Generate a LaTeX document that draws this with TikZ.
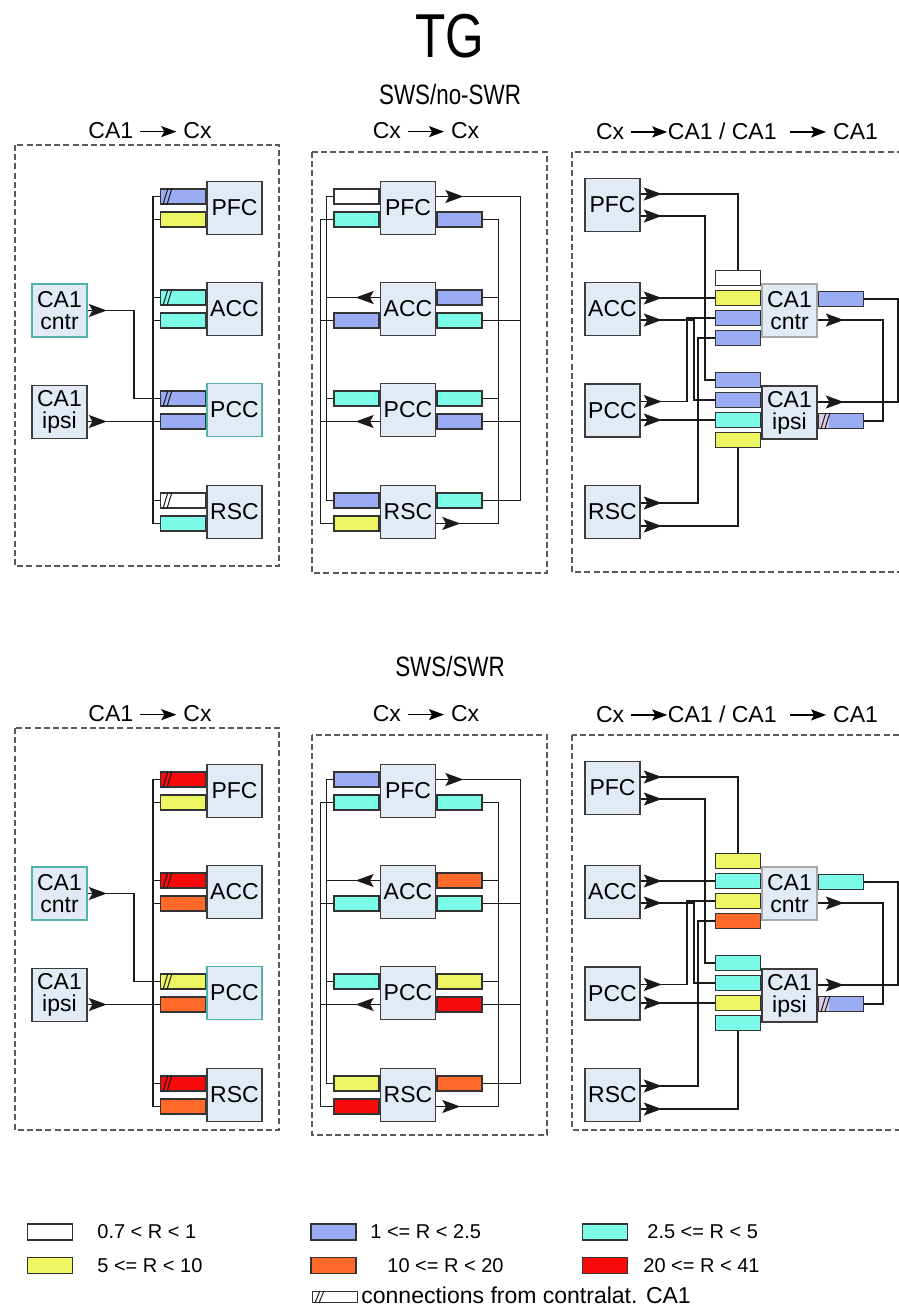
\documentclass[tikz,border=0pt]{standalone}
\usepackage{fontspec}
\setmainfont{Liberation Sans}
\newfontfamily\narrowfont[FakeStretch=0.8]{Liberation Sans}
\usetikzlibrary{arrows.meta, calc, positioning, decorations.markings}

\definecolor{boxfill}{HTML}{E2EAF6}
\definecolor{boxline}{HTML}{3C3C3C}
\definecolor{tealline}{HTML}{4FB3AA}
\definecolor{greyline}{HTML}{A8A8A8}
\definecolor{barline}{HTML}{333333}
\definecolor{linecol}{HTML}{1A1A1A}
\definecolor{dashcol}{HTML}{5A5A5A}
\definecolor{barw}{HTML}{FFFFFF}
\definecolor{barb}{HTML}{9AADF4}
\definecolor{barc}{HTML}{7DFBE9}
\definecolor{bary}{HTML}{EEF562}
\definecolor{baro}{HTML}{FF6A2B}
\definecolor{barr}{HTML}{F80A0A}
\definecolor{hatchfill}{HTML}{D9CBE6}

\tikzset{
  area/.style={draw=boxline, fill=boxfill, line width=0.85pt, minimum width=27.5pt,
    minimum height=26.5pt, inner sep=0pt, align=center,
    font=\fontsize{11.5}{11}\selectfont},
  bar/.style={draw=barline, fill=#1, line width=0.6pt, minimum width=22.5pt,
    minimum height=7.5pt, inner sep=0pt},
  link/.style={draw=linecol, line width=0.7pt},
  arrowat/.style={postaction={decorate}, decoration={markings,
    mark=at position #1 with {\arrow{Stealth[length=9pt,width=6.5pt,inset=1.8pt]}}}},
  panel/.style={draw=dashcol, line width=0.6pt, dash pattern=on 3pt off 1.6pt},
  hdr/.style={font=\fontsize{11.5}{13}\selectfont, inner sep=0pt},
  legendtext/.style={font=\fontsize{10}{11}\selectfont, inner sep=0pt, anchor=west}
}
\newcommand{\harr}{\tikz[baseline=-0.6ex]\draw[line width=0.7pt,-{Stealth[length=7.5pt,width=5.5pt,inset=1.5pt]}] (0pt,0pt) -- (18pt,0pt);}
\newcommand{\hatch}[1]{\draw[linecol, line width=0.5pt] ($(#1.south west)+(3,0)$) -- ($(#1.north west)+(8,0)$)
  ($(#1.south west)+(7,0)$) -- ($(#1.north west)+(12,0)$);}

\begin{document}
\begin{tikzpicture}[x=0.5pt, y=-0.5pt]
  \useasboundingbox (0,0) rectangle (899,1308);
  \clip (0,0) rectangle (899,1308);

  \node[font=\narrowfont\fontsize{31}{31}\selectfont] (title) at (450,36) {TG};
  \node[font=\narrowfont\fontsize{14}{14}\selectfont] (swsno) at (450,94) {SWS/no-SWR};
  \node[font=\narrowfont\fontsize{14}{14}\selectfont] (swsyes) at (450,666) {SWS/SWR};

  % CA1 -> Cx
  \foreach \r/\dy/\fb/\pu/\pl/\au/\al/\cu/\cl/\su/\sl in
    {t/0/566/barb/bary/barc/barc/barb/barb/barw/barc,
     b/583/547/barr/bary/barr/baro/bary/baro/barr/baro}{
  \begin{scope}[shift={(0,\dy)}]
    \node[hdr] (hL\r) at (150,131) {CA1 \harr{} Cx};
    \draw[panel] (15,145) rectangle (279,\fb);
    \node[area, draw=tealline] (cntrL\r) at (59.5,310.5) {CA1\\cntr};
    \node[area] (ipsiL\r) at (59.5,412) {CA1\\ipsi};
    \node[area] (pfcL\r) at (234.5,208) {PFC};
    \node[area] (accL\r) at (234.5,309) {ACC};
    \node[area, draw=tealline] (pccL\r) at (234.5,410) {PCC};
    \node[area] (rscL\r) at (234.5,512) {RSC};
    \node[bar=\pu, anchor=east] (pfcLu\r) at ($(pfcL\r.west)+(0,-11.5)$) {};
    \node[bar=\pl, anchor=east] (pfcLl\r) at ($(pfcL\r.west)+(0,11.5)$) {};
    \node[bar=\au, anchor=east] (accLu\r) at ($(accL\r.west)+(0,-11.5)$) {};
    \node[bar=\al, anchor=east] (accLl\r) at ($(accL\r.west)+(0,11.5)$) {};
    \node[bar=\cu, anchor=east] (pccLu\r) at ($(pccL\r.west)+(0,-11.5)$) {};
    \node[bar=\cl, anchor=east] (pccLl\r) at ($(pccL\r.west)+(0,11.5)$) {};
    \node[bar=\su, anchor=east] (rscLu\r) at ($(rscL\r.west)+(0,-11.5)$) {};
    \node[bar=\sl, anchor=east] (rscLl\r) at ($(rscL\r.west)+(0,11.5)$) {};
    \hatch{pfcLu\r} \hatch{accLu\r} \hatch{pccLu\r} \hatch{rscLu\r}
    \draw[link] (pfcLu\r.west) -- ++(-7,0) |- (rscLl\r.west);
    \foreach \n in {pfcLl,accLu,accLl,pccLl,rscLu}
      \draw[link] (\n\r.west) -- ++(-7,0);
    \draw[link, arrowat=9.5pt] (cntrL\r.east) -- ++(46,0) |- (pccLu\r.west);
    \draw[link, arrowat=9.5pt] (ipsiL\r.east |- pccLl\r.west) -- (pccLl\r.west);
  \end{scope}}

  % Cx -> Cx
  \foreach \r/\dy/\fb/\pa/\pb/\pc/\aa/\ab/\ac/\ca/\cb/\cc/\sa/\sb/\sc in
    {t/0/573/barw/barc/barb/barb/barb/barc/barc/barc/barb/barb/bary/barc,
     b/583/552/barb/barc/barc/barc/baro/barc/barc/bary/barr/bary/barr/baro}{
  \begin{scope}[shift={(0,\dy)}]
    \node[hdr] (hM\r) at (426,131) {Cx \harr{} Cx};
    \draw[panel] (312,152) rectangle (547,\fb);
    \node[area] (pfcM\r) at (408,208) {PFC};
    \node[area] (accM\r) at (408,309) {ACC};
    \node[area] (pccM\r) at (408,410) {PCC};
    \node[area] (rscM\r) at (408,512) {RSC};
    \node[bar=\pa, anchor=east] (pfcMlu\r) at ($(pfcM\r.west)+(0,-11.5)$) {};
    \node[bar=\pb, anchor=east] (pfcMll\r) at ($(pfcM\r.west)+(0,11.5)$) {};
    \node[bar=\pc, anchor=west] (pfcMrl\r) at ($(pfcM\r.east)+(0,11.5)$) {};
    \node[bar=\aa, anchor=east] (accMll\r) at ($(accM\r.west)+(0,11.5)$) {};
    \node[bar=\ab, anchor=west] (accMru\r) at ($(accM\r.east)+(0,-11.5)$) {};
    \node[bar=\ac, anchor=west] (accMrl\r) at ($(accM\r.east)+(0,11.5)$) {};
    \node[bar=\ca, anchor=east] (pccMlu\r) at ($(pccM\r.west)+(0,-11.5)$) {};
    \node[bar=\cb, anchor=west] (pccMru\r) at ($(pccM\r.east)+(0,-11.5)$) {};
    \node[bar=\cc, anchor=west] (pccMrl\r) at ($(pccM\r.east)+(0,11.5)$) {};
    \node[bar=\sa, anchor=east] (rscMlu\r) at ($(rscM\r.west)+(0,-11.5)$) {};
    \node[bar=\sb, anchor=east] (rscMll\r) at ($(rscM\r.west)+(0,11.5)$) {};
    \node[bar=\sc, anchor=west] (rscMru\r) at ($(rscM\r.east)+(0,-11.5)$) {};
    \draw[link, arrowat=13.5pt] ($(pfcM\r.east)+(0,-11.5)$) -- ++(84,0) |- (rscMru\r.east);
    \draw[link] (accMrl\r.east) -- ++(38,0) (pccMrl\r.east) -- ++(38,0);
    \draw[link, arrowat=12pt] ($(rscM\r.east)+(0,11.5)$) -- ++(62,0) |- (pfcMrl\r.east);
    \draw[link] (accMru\r.east) -- ++(16,0) (pccMru\r.east) -- ++(16,0);
    \draw[link] (pfcMlu\r.west) -- ++(-7,0) |- (rscMlu\r.west);
    \draw[link] (pccMlu\r.west) -- ++(-7,0);
    \draw[link, arrowat=12pt] ($(accM\r.west)+(0,-11.5)$) -- ++(-53,0);
    \draw[link] (pfcMll\r.west) -- ++(-13,0) |- (rscMll\r.west);
    \draw[link] (accMll\r.west) -- ++(-13,0);
    \draw[link, arrowat=12pt] ($(pccM\r.west)+(0,11.5)$) -- ++(-59,0);
  \end{scope}}

  % Cx -> CA1 / CA1 -> CA1
  \foreach \r/\dy/\fb/\ca/\cb/\cc/\cd/\ia/\ib/\ic/\id/\co in
    {t/0/572/barw/bary/barb/barb/barb/barb/barc/bary/barb,
     b/583/547/bary/barc/bary/baro/barc/barc/bary/barc/barc}{
  \begin{scope}[shift={(0,\dy)}]
    \node[hdr] (hR\r) at (737,131) {Cx \harr{}CA1 / CA1 \ \harr{} CA1};
    \draw[panel] (572,152) rectangle (920,\fb);
    \node[area] (pfcR\r) at (612.5,205) {PFC};
    \node[area] (accR\r) at (612.5,309) {ACC};
    \node[area] (pccR\r) at (612.5,410.5) {PCC};
    \node[area] (rscR\r) at (612.5,512) {RSC};
    \node[area, draw=greyline] (cntrR\r) at (789.5,310.5) {CA1\\cntr};
    \node[area] (ipsiR\r) at (789.5,412.5) {CA1\\ipsi};
    \node[bar=\ca, anchor=east] (cb1\r) at ($(cntrR\r.west)+(0,-32.5)$) {};
    \node[bar=\cb, anchor=east] (cb2\r) at ($(cntrR\r.west)+(0,-12.5)$) {};
    \node[bar=\cc, anchor=east] (cb3\r) at ($(cntrR\r.west)+(0,7.5)$) {};
    \node[bar=\cd, anchor=east] (cb4\r) at ($(cntrR\r.west)+(0,27.5)$) {};
    \node[bar=\ia, anchor=east] (ib1\r) at ($(ipsiR\r.west)+(0,-32.5)$) {};
    \node[bar=\ib, anchor=east] (ib2\r) at ($(ipsiR\r.west)+(0,-12.5)$) {};
    \node[bar=\ic, anchor=east] (ib3\r) at ($(ipsiR\r.west)+(0,7.5)$) {};
    \node[bar=\id, anchor=east] (ib4\r) at ($(ipsiR\r.west)+(0,27.5)$) {};
    \node[bar=\co, anchor=west] (cr\r) at ($(cntrR\r.east)+(0,-11.5)$) {};
    \node[bar=barb, anchor=west] (ir\r) at ($(ipsiR\r.east)+(0,8.5)$) {};
    \fill[hatchfill] ($(ir\r.south west)+(1,-1)$) rectangle ($(ir\r.north west)+(11,1)$);
    \hatch{ir\r}
    \draw[link, arrowat=10.5pt] ($(pfcR\r.east)+(0,-11)$) -| (cb1\r.north);
    \draw[link, arrowat=10.5pt] ($(pfcR\r.east)+(0,11)$) -- ++(64,0) |- (ib1\r.west);
    \draw[link, arrowat=10.5pt] (accR\r.east |- cb2\r.west) -- (cb2\r.west);
    \draw[link, arrowat=10.5pt] ($(accR\r.east)+(0,11)$) -- ++(53,0) |- (ib2\r.west);
    \draw[link, arrowat=10.5pt] ($(pccR\r.east)+(0,-9)$) -- ++(46,0) |- (cb3\r.west);
    \draw[link, arrowat=10.5pt] (pccR\r.east |- ib3\r.west) -- (ib3\r.west);
    \draw[link, arrowat=10.5pt] ($(rscR\r.east)+(0,-9)$) -- ++(57,0) |- (cb4\r.west);
    \draw[link, arrowat=10.5pt] ($(rscR\r.east)+(0,14)$) -| (ib4\r.south);
    \draw[link, arrowat=13pt] ($(cntrR\r.east)+(0,9.5)$) -- ++(65,0) |- (ir\r.east);
    \draw[link, arrowat=13pt] ($(ipsiR\r.east)+(0,-10.5)$) -- ++(80,0) |- (cr\r.east);
  \end{scope}}

  % legend
  \node[bar=barw, minimum height=8pt] (lgw) at (50,1232) {};
  \node[bar=barb, minimum height=8pt] (lgb) at (333.5,1232) {};
  \node[bar=barc, minimum height=8pt] (lgc) at (605,1232) {};
  \node[bar=bary, minimum height=8pt] (lgy) at (50,1265.5) {};
  \node[bar=baro, minimum height=8pt] (lgo) at (333.5,1265.5) {};
  \node[bar=barr, minimum height=8pt] (lgr) at (605,1265.5) {};
  \node[bar=barw, minimum height=5.5pt] (lgh) at (335,1297) {};
  \hatch{lgh}
  \node[legendtext] (tw) at (97,1232) {0.7 < R < 1};
  \node[legendtext] (tb) at (370,1232) {1 <= R < 2.5};
  \node[legendtext] (tc) at (647,1232) {2.5 <= R < 5};
  \node[legendtext] (ty) at (97,1265.5) {5 <= R < 10};
  \node[legendtext] (to) at (387,1265.5) {10 <= R < 20};
  \node[legendtext] (tr) at (643,1265.5) {20 <= R < 41};
  \node[legendtext, font=\fontsize{11.5}{12}\selectfont] (th) at (361,1295) {connections from contralat. CA1};
\end{tikzpicture}
\end{document}
